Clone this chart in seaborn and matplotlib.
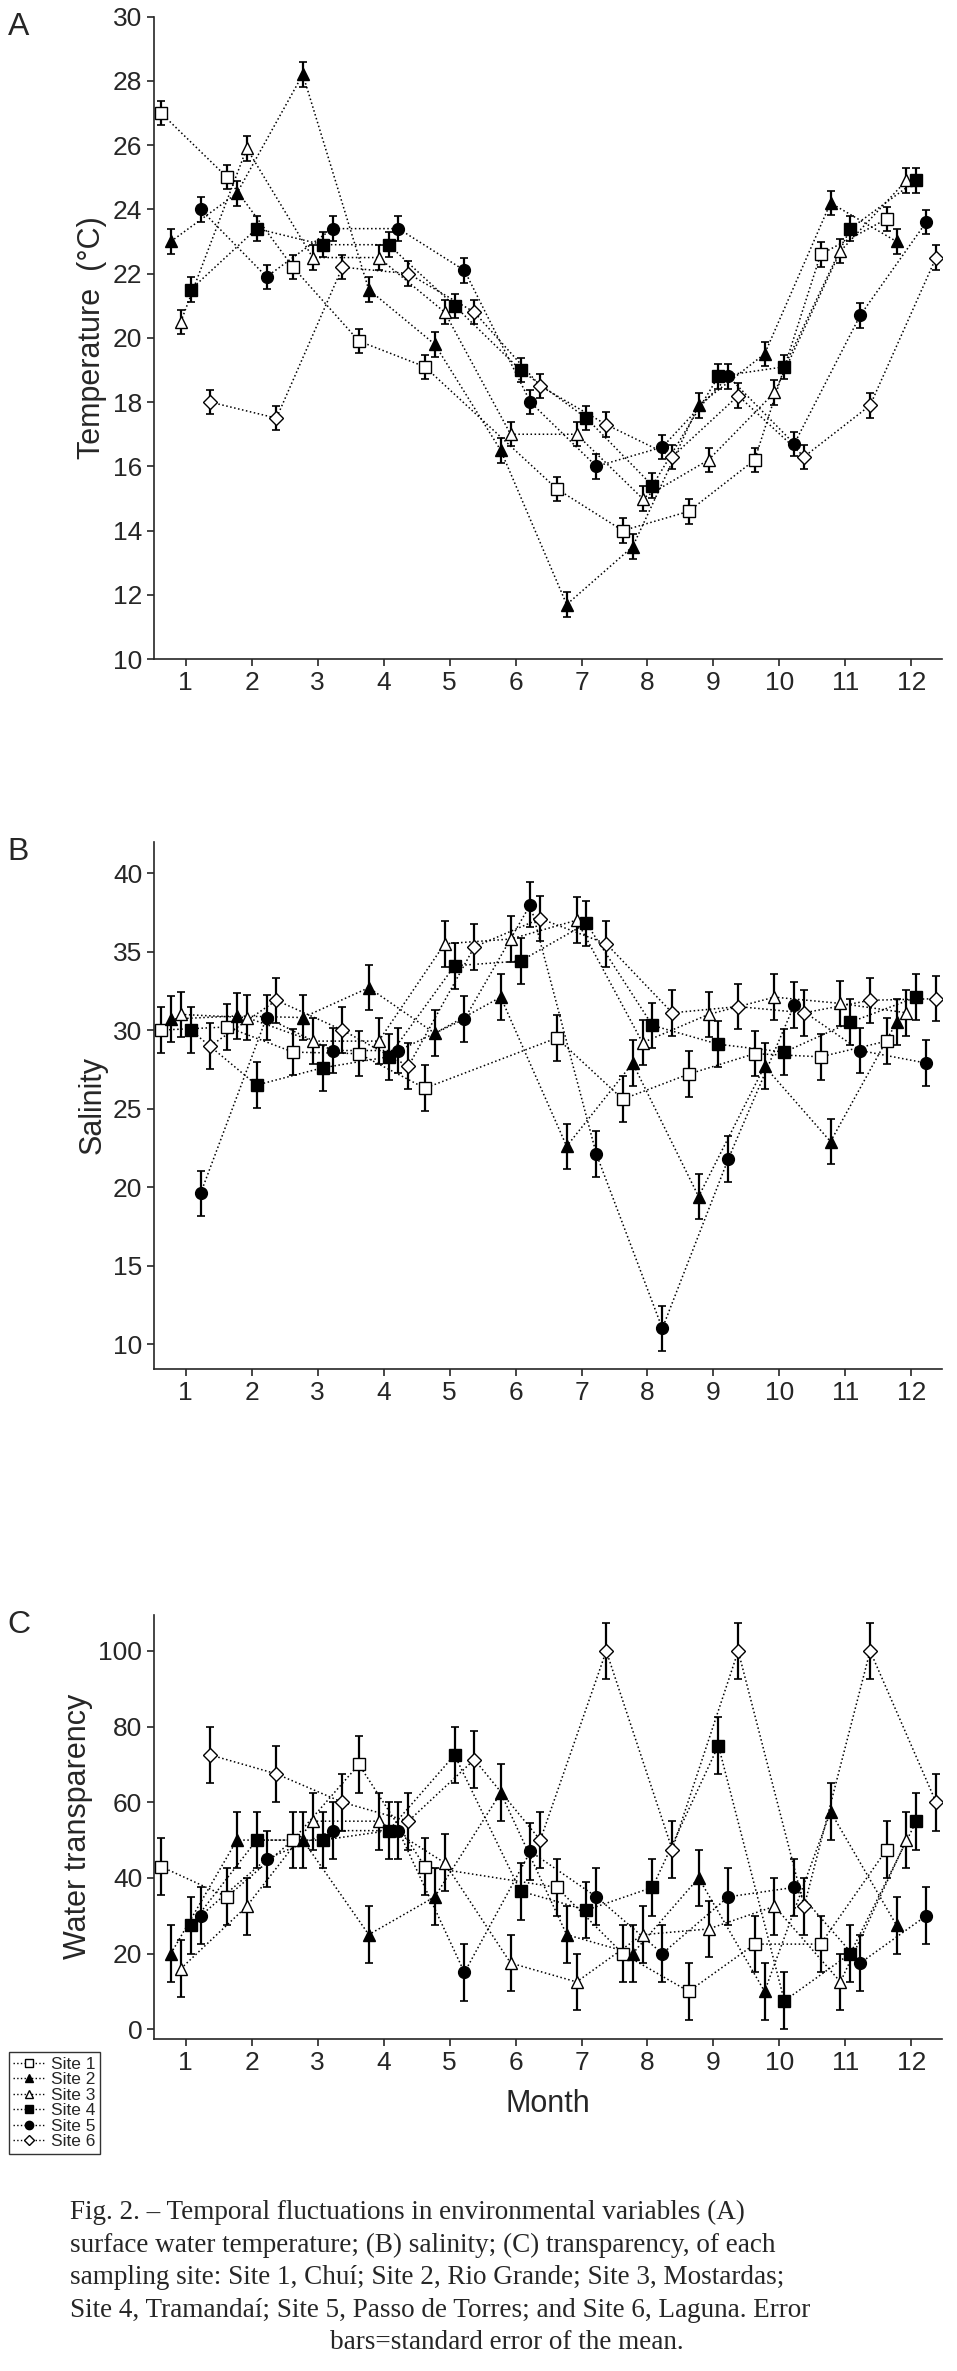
import numpy as np
import pandas as pd
import matplotlib
matplotlib.use("Agg")
import matplotlib.pyplot as plt
import seaborn as sns
from matplotlib.lines import Line2D

months = np.arange(1, 13)
sites = ["Site 1", "Site 2", "Site 3", "Site 4", "Site 5", "Site 6"]
offsets = [-0.375, -0.225, -0.075, 0.075, 0.225, 0.375]
markers = ["s", "^", "^", "s", "o", "D"]
filled = [False, True, False, True, True, False]
nan = np.nan

temp = [
    [27.0, 25.0, 22.2, 19.9, 19.1, nan, 15.3, 14.0, 14.6, 16.2, 22.6, 23.7],
    [23.0, 24.5, 28.2, 21.5, 19.8, 16.5, 11.7, 13.5, 17.9, 19.5, 24.2, 23.0],
    [20.5, 25.9, 22.5, 22.5, 20.8, 17.0, 17.0, 15.0, 16.2, 18.3, 22.7, 24.9],
    [21.5, 23.4, 22.9, 22.9, 21.0, 19.0, 17.5, 15.4, 18.8, 19.1, 23.4, 24.9],
    [24.0, 21.9, 23.4, 23.4, 22.1, 18.0, 16.0, 16.6, 18.8, 16.7, 20.7, 23.6],
    [18.0, 17.5, 22.2, 22.0, 20.8, 18.5, 17.3, 16.3, 18.2, 16.3, 17.9, 22.5],
]
temp_err = 0.38

salinity = [
    [30.0, 30.2, 28.6, 28.5, 26.3, nan, 29.5, 25.6, 27.2, 28.5, 28.3, 29.3],
    [30.7, 30.9, 30.8, 32.7, 29.8, 32.1, 22.6, 27.9, 19.4, 27.7, 22.9, 30.5],
    [31.0, 30.8, 29.3, 29.3, 35.5, 35.8, 37.0, 29.2, 31.0, 32.1, 31.7, 31.1],
    [30.0, 26.5, 27.6, 28.3, 34.1, 34.4, 36.8, 30.3, 29.1, 28.6, 30.5, 32.1],
    [19.6, 30.8, 28.7, 28.7, 30.7, 38.0, 22.1, 11.0, 21.8, 31.6, 28.7, 27.9],
    [29.0, 31.9, 30.0, 27.7, 35.3, 37.1, 35.5, 31.1, 31.5, 31.1, 31.9, 32.0],
]
sal_err = 1.45

transp = [
    [43, 35, 50, 70, 43, nan, 37.5, 20, 10, 22.5, 22.5, 47.5],
    [20, 50, 50, 25, 35, 62.5, 25, 20, 40, 10, 57.5, 27.5],
    [16, 32.5, 55, 55, 44, 17.5, 12.5, 25, 26.5, 32.5, 12.5, 50],
    [27.5, 50, 50, 52.5, 72.5, 36.5, 31.5, 37.5, 75, 7.5, 20, 55],
    [30, 45, 52.5, 52.5, 15, 47, 35, 20, 35, 37.5, 17.5, 30],
    [72.5, 67.5, 60, 55, 71.3, 50, 100, 47.5, 100, 32.5, 100, 60],
]
tr_err = 7.5

sns.set_style("ticks")
plt.rcParams["font.family"] = ["Liberation Sans", "DejaVu Sans"]

fig = plt.figure(figsize=(9.57, 23.71), dpi=100)
L, R = 0.161, 0.984
axA = fig.add_axes([L, 0.722, R - L, 0.993 - 0.722])
axB = fig.add_axes([L, 0.4225, R - L, 0.645 - 0.4225])
axC = fig.add_axes([L, 0.140, R - L, 0.319 - 0.140])

panels = [
    (axA, temp, temp_err, (10, 30), np.arange(10, 31, 2), "Temperature  (°C)", "A"),
    (axB, salinity, sal_err, (8.4, 42), np.arange(10, 41, 5), "Salinity", "B"),
    (axC, transp, tr_err, (-2.6, 109.6), np.arange(0, 101, 20), "Water transparency", "C"),
]

for ax, data, err, ylim, yticks, ylabel, letter in panels:
    for i, site in enumerate(sites):
        df = pd.DataFrame({"x": months + offsets[i], "y": data[i]}).dropna()
        sns.lineplot(data=df, x="x", y="y", ax=ax, color="black", linestyle=":",
                     linewidth=1.1, sort=False, zorder=2)
        ax.errorbar(df["x"], df["y"], yerr=err, fmt="none", ecolor="black",
                    elinewidth=1.6, capsize=3, capthick=1.2, zorder=3)
        ax.plot(df["x"], df["y"], linestyle="none", marker=markers[i],
                markersize=8.5 if markers[i] != "D" else 7,
                markerfacecolor="black" if filled[i] else "white",
                markeredgecolor="black", markeredgewidth=1.0, zorder=4)
    ax.set_xlim(0.52, 12.46)
    ax.set_ylim(*ylim)
    ax.set_xticks(months)
    ax.set_yticks(yticks)
    ax.tick_params(labelsize=19, length=5, width=1.2, direction="out")
    ax.set_ylabel(ylabel, fontsize=22)
    ax.set_xlabel("")
    for s in ["top", "right"]:
        ax.spines[s].set_visible(False)
    for s in ["left", "bottom"]:
        ax.spines[s].set_linewidth(1.2)
    fig.text(0.008, ax.get_position().y1 + 0.002, letter, fontsize=23, va="top")

axC.set_xlabel("Month", fontsize=22, labelpad=10)

leg_h = []
for i in range(6):
    leg_h.append(Line2D([0], [0], color="black", linestyle=":", linewidth=1,
                        marker=markers[i], markersize=6 if markers[i] != "D" else 5,
                        markerfacecolor="black" if filled[i] else "white",
                        markeredgecolor="black"))
fig.legend(leg_h, sites, loc="lower left", bbox_to_anchor=(0.0, 0.088),
           fontsize=12.5, frameon=True, fancybox=False, edgecolor="black",
           handlelength=1.8, borderpad=0.25, labelspacing=0.02, handletextpad=0.4)

caption = [
    "Fig. 2. – Temporal fluctuations in environmental variables (A)",
    "surface water temperature; (B) salinity; (C) transparency, of each",
    "sampling site: Site 1, Chuí; Site 2, Rio Grande; Site 3, Mostardas;",
    "Site 4, Tramandaí; Site 5, Passo de Torres; and Site 6, Laguna. Error",
]
y0 = 0.072
for k, line in enumerate(caption):
    fig.text(0.073, y0 - k * 0.0137, line, fontsize=19.5, family="Liberation Serif",
             va="top", ha="left")
fig.text(0.53, y0 - 4 * 0.0137, "bars=standard error of the mean.", fontsize=19.5,
         family="Liberation Serif", va="top", ha="center")

fig.savefig("out.png", dpi=100)
